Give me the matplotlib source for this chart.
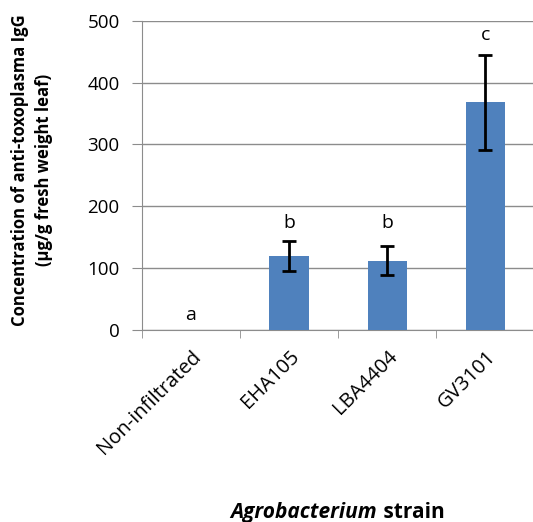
import numpy as np
import matplotlib.pyplot as plt

plt.rcParams['font.family'] = ['Open Sans', 'DejaVu Sans']

strains = ['Non-infiltrated', 'EHA105', 'LBA4404', 'GV3101']
igg = [0, 120, 112, 368]
err = [0, 24, 23, 77]
letters = ['a', 'b', 'b', 'c']
letter_y = [24, 173, 173, 477]

fig = plt.figure(figsize=(5.33, 5.22), dpi=100)
ax = fig.add_axes([0.266, 0.368, 0.737, 0.592])

x = np.arange(len(strains))
ax.bar(x, igg, width=0.4, color='#4F81BD', zorder=3)
ax.errorbar(x[1:], igg[1:], yerr=err[1:], fmt='none', ecolor='black',
            elinewidth=2, capsize=5, capthick=2, zorder=4)
for xi, lab, ly in zip(x, letters, letter_y):
    ax.text(xi, ly, lab, ha='center', va='center', fontsize=14)

ax.set_xlim(-0.5, 3.5)
ax.set_ylim(0, 500)
ax.set_yticks(np.arange(0, 501, 100))
ax.yaxis.grid(True, color='#8c8c8c', linewidth=1, zorder=0)
ax.set_xticks(x)
ax.set_xticklabels(strains, rotation=45, ha='right', rotation_mode='anchor',
                   fontsize=14.5)
ax.tick_params(axis='x', length=0, pad=12)
ax.set_xticks(np.arange(-0.5, 3.6, 1), minor=True)
ax.tick_params(axis='x', which='minor', length=6, color='#8c8c8c')
ax.tick_params(axis='y', length=7, color='#8c8c8c', labelsize=13.5, pad=9)
for s in ['top', 'right']:
    ax.spines[s].set_visible(False)
for s in ['left', 'bottom']:
    ax.spines[s].set_color('#8c8c8c')

fig.text(0.06, 0.675, 'Concentration of anti-toxoplasma IgG\n(\u00b5g/g fresh weight leaf)',
         rotation=90, ha='center', va='center', fontsize=12, fontweight='bold',
         linespacing=1.4)
fig.text(0.708, 0.008, 'Agrobacterium', ha='right', va='baseline', fontsize=15,
         fontweight='bold', style='italic')
fig.text(0.71, 0.008, ' strain', ha='left', va='baseline', fontsize=15,
         fontweight='bold')

fig.savefig('out.png', dpi=100)
